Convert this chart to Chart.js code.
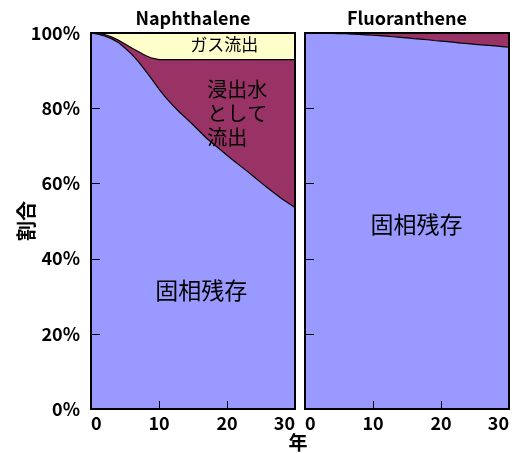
<!DOCTYPE html>
<html>
<head>
<meta charset="utf-8">
<script src="https://cdn.jsdelivr.net/npm/chart.js@4/dist/chart.umd.min.js"></script>
<style>
  html, body { margin: 0; padding: 0; background: #fff; }
  #wrap { position: relative; width: 515px; height: 453px; overflow: hidden; }
  canvas { position: absolute; top: 0; }
  #c1 { left: 0; }
  #c2 { left: 300px; }
  #xtitle {
    position: absolute; left: 286px; top: 431px; width: 24px;
    text-align: center; font: bold 19px "Noto Sans CJK JP", sans-serif;
    line-height: 22px; color: #000;
  }
</style>
</head>
<body>
<div id="wrap">
  <canvas id="c1" width="300" height="453"></canvas>
  <canvas id="c2" width="215" height="453"></canvas>
  <div id="xtitle">年</div>
</div>
<script>
// Elapsed time (years)
const years = [0,1,2,3,4,5,6,7,8,9,10,11,12,13,14,15,16,17,18,19,20,21,22,23,24,25,26,27,28,29,30];

// Naphthalene: share of the initial amount (%)
const naphSolid = [100,99.7,99.2,98.5,97.5,96.0,94.3,92.3,90.0,87.6,85.1,82.8,80.8,79.0,77.3,75.6,73.8,72.0,70.5,69.0,67.5,66.0,64.6,63.2,61.7,60.2,58.8,57.4,56.0,54.8,53.6];
const naphLeach = [0,0.2,0.4,0.5,0.6,1.1,1.7,2.7,4.0,5.7,7.8,10.1,12.1,13.9,15.6,17.3,19.1,20.9,22.4,23.9,25.4,26.9,28.3,29.7,31.2,32.7,34.1,35.5,36.9,38.1,39.3];
const naphGas   = [0,0.1,0.4,1.0,1.9,2.9,4.0,5.0,6.0,6.7,7.1,7.1,7.1,7.1,7.1,7.1,7.1,7.1,7.1,7.1,7.1,7.1,7.1,7.1,7.1,7.1,7.1,7.1,7.1,7.1,7.1];

// Fluoranthene: share of the initial amount (%)
const fluoSolid = [100,100,100,99.95,99.9,99.85,99.8,99.7,99.6,99.5,99.4,99.3,99.15,99.0,98.85,98.7,98.5,98.35,98.2,98.0,97.85,97.7,97.5,97.3,97.15,97.0,96.85,96.7,96.55,96.4,96.25];
const fluoLeach = [0,0,0,0.05,0.1,0.15,0.2,0.3,0.4,0.5,0.6,0.7,0.85,1.0,1.15,1.3,1.5,1.65,1.8,2.0,2.15,2.3,2.5,2.7,2.85,3.0,3.15,3.3,3.45,3.6,3.75];
const fluoGas   = [0,0,0,0,0,0,0,0,0,0,0,0,0,0,0,0,0,0,0,0,0,0,0,0,0,0,0,0,0,0,0];

// Axis ticks
const xTicks = [0, 10, 20, 30];
const yTicks = [0, 20, 40, 60, 80, 100];

// Category names
const seriesNames = ['固相残存', '浸出水として流出', 'ガス流出'];
const panelNames = ['Naphthalene', 'Fluoranthene'];

Chart.defaults.font.family = '"Noto Sans CJK JP", sans-serif';
Chart.defaults.color = '#000';

function areaSets(solid, leach, gas) {
  const pts = arr => years.map((t, i) => ({ x: t, y: arr[i] }));
  const common = { pointRadius: 0, tension: 0 };
  return [
    Object.assign({ label: seriesNames[0], data: pts(solid), backgroundColor: '#9999ff', borderColor: '#000', borderWidth: 1.2, fill: 'origin' }, common),
    Object.assign({ label: seriesNames[1], data: pts(leach), backgroundColor: '#993366', borderColor: '#000', borderWidth: 1.2, fill: '-1' }, common),
    Object.assign({ label: seriesNames[2], data: pts(gas), backgroundColor: '#ffffcc', borderColor: 'rgba(0,0,0,0)', borderWidth: 0, fill: '-1' }, common)
  ];
}

// Frame, inward tick marks, panel title and in-plot labels
const panelDecor = {
  id: 'panelDecor',
  afterDatasetsDraw(chart, args, opts) {
    const { ctx, chartArea: a, scales: { x, y } } = chart;
    ctx.save();
    ctx.strokeStyle = '#000';
    ctx.lineWidth = 1;
    ctx.beginPath();
    yTicks.forEach(v => {
      if (v === 0 || v === 100) return;
      const py = Math.round(y.getPixelForValue(v)) + 0.5;
      ctx.moveTo(a.left, py); ctx.lineTo(a.left + 9, py);
    });
    xTicks.forEach(v => {
      if (v === x.min || v === x.max) return;
      const px = Math.round(x.getPixelForValue(v)) + 0.5;
      ctx.moveTo(px, a.bottom); ctx.lineTo(px, a.bottom - 8);
    });
    ctx.stroke();
    ctx.lineWidth = 2;
    ctx.strokeRect(a.left, a.top, a.right - a.left, a.bottom - a.top);

    ctx.fillStyle = '#000';
    ctx.textAlign = 'center';
    ctx.textBaseline = 'middle';
    ctx.font = 'bold 18px "Noto Sans CJK JP", sans-serif';
    ctx.fillText(opts.title, (a.left + a.right) / 2, a.top - 15);

    (opts.notes || []).forEach(n => {
      ctx.font = n.size + 'px "Noto Sans CJK JP", sans-serif';
      ctx.textAlign = n.align || 'center';
      const px = x.getPixelForValue(n.x);
      const py = y.getPixelForValue(n.y);
      n.lines.forEach((s, i) => ctx.fillText(s, px, py + i * (n.lh || 0)));
    });
    ctx.restore();
  }
};

const tickFont = { size: 18, weight: 'bold' };

function makeOptions(withYAxis, layoutPad, decor) {
  return {
    responsive: false,
    devicePixelRatio: 1,
    animation: false,
    layout: { padding: layoutPad },
    plugins: { legend: { display: false }, tooltip: { enabled: false }, panelDecor: decor },
    scales: {
      x: {
        type: 'linear', min: 0, max: 30,
        grid: { display: false, drawTicks: false },
        border: { display: false },
        ticks: { stepSize: 10, align: 'inner', padding: 3, font: tickFont, color: '#000', maxRotation: 0, autoSkip: false },
        afterFit(s) { s.height = 44; }
      },
      y: {
        display: withYAxis,
        stacked: true, min: 0, max: 100,
        grid: { display: false, drawTicks: false },
        border: { display: false },
        ticks: { stepSize: 20, padding: 11, font: tickFont, color: '#000', callback: v => v + '%' },
        title: { display: true, text: '割合', font: { size: 20, weight: 'bold' }, color: '#000', padding: { top: 14, bottom: 0 } },
        afterFit(s) { if (withYAxis) s.width = 91; }
      }
    }
  };
}

new Chart(document.getElementById('c1'), {
  type: 'line',
  data: { datasets: areaSets(naphSolid, naphLeach, naphGas) },
  options: makeOptions(true, { top: 33, left: 0, right: 5, bottom: 0 }, {
    title: panelNames[0],
    notes: [
      { x: 19.6, y: 96.8, size: 17, lines: ['ガス流出'] },
      { x: 17.1, y: 85.1, size: 20, align: 'left', lh: 24, lines: ['浸出水', 'として', '流出'] },
      { x: 16.2, y: 31.6, size: 23, lines: ['固相残存'] }
    ]
  }),
  plugins: [panelDecor]
});

new Chart(document.getElementById('c2'), {
  type: 'line',
  data: { datasets: areaSets(fluoSolid, fluoLeach, fluoGas) },
  options: makeOptions(false, { top: 33, left: 5, right: 6, bottom: 0 }, {
    title: panelNames[1],
    notes: [
      { x: 16.4, y: 49.1, size: 23, lines: ['固相残存'] }
    ]
  }),
  plugins: [panelDecor]
});
</script>
</body>
</html>
